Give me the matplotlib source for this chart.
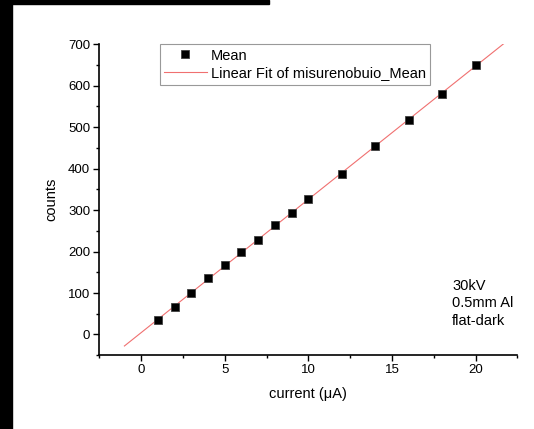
import matplotlib
matplotlib.use('Agg')
import matplotlib.pyplot as plt
from matplotlib.patches import Rectangle
from matplotlib.ticker import MultipleLocator
import numpy as np

plt.rcParams['font.family'] = ['Liberation Sans', 'DejaVu Sans']

# data
current = [1, 2, 3, 4, 5, 6, 7, 8, 9, 10, 12, 14, 16, 18, 20]
counts = [34.5, 66.6, 101, 136, 167, 198, 229, 263, 294, 326, 387, 455, 518, 579, 651]
fit_range = [-1, 22]
note = "30kV\n0.5mm Al\nflat-dark"

fig = plt.figure(figsize=(5.34, 4.29), dpi=100)
ax = fig.add_axes([0.186, 0.172, 0.783, 0.725])

# linear fit of the means
slope, intercept = np.polyfit(current, counts, 1)
xf = np.array(fit_range)
ax.plot(xf, slope * xf + intercept, color='#f07070', lw=0.8,
        label='Linear Fit of misurenobuio_Mean', zorder=2)
ax.plot(current, counts, 's', color='black', ms=5.2, mec='#404040', mew=0.6,
        label='Mean', zorder=3)

ax.set_xlim(-2.5, 22.5)
ax.set_ylim(-50, 700)
ax.xaxis.set_major_locator(MultipleLocator(5))
ax.xaxis.set_minor_locator(MultipleLocator(2.5))
ax.yaxis.set_major_locator(MultipleLocator(100))
ax.yaxis.set_minor_locator(MultipleLocator(50))
ax.tick_params(which='major', direction='out', length=4.5, width=1.0, labelsize=9.5, pad=2)
ax.tick_params(which='minor', direction='out', length=2.5, width=1.0)
ax.spines['top'].set_visible(False)
ax.spines['right'].set_visible(False)
for s in ('left', 'bottom'):
    ax.spines[s].set_linewidth(1.2)

ax.set_xlabel('current (\u03bcA)', fontsize=10.5, labelpad=8)
ax.set_ylabel('counts', fontsize=10.5, labelpad=7)

handles, labels = ax.get_legend_handles_labels()
leg = ax.legend(handles[::-1], labels[::-1], loc='upper left',
                bbox_to_anchor=(0.145, 1.0), fontsize=10.5, frameon=True,
                fancybox=False, edgecolor='#808080', handlelength=2.9,
                handletextpad=0.3, borderpad=0.3, labelspacing=0.25,
                borderaxespad=0)
leg.get_frame().set_linewidth(0.8)

fig.text(452 / 534, 1 - 279 / 429, note, fontsize=10.5, va='top', ha='left',
         linespacing=1.3)

# black strips along the top-left and left edge
fig.patches.append(Rectangle((0, 0), 12 / 534, 1, transform=fig.transFigure,
                             color='black', zorder=0))
fig.patches.append(Rectangle((0, 1 - 4 / 429), 269 / 534, 4 / 429,
                             transform=fig.transFigure, color='black', zorder=0))

fig.savefig('out.png', dpi=100)
